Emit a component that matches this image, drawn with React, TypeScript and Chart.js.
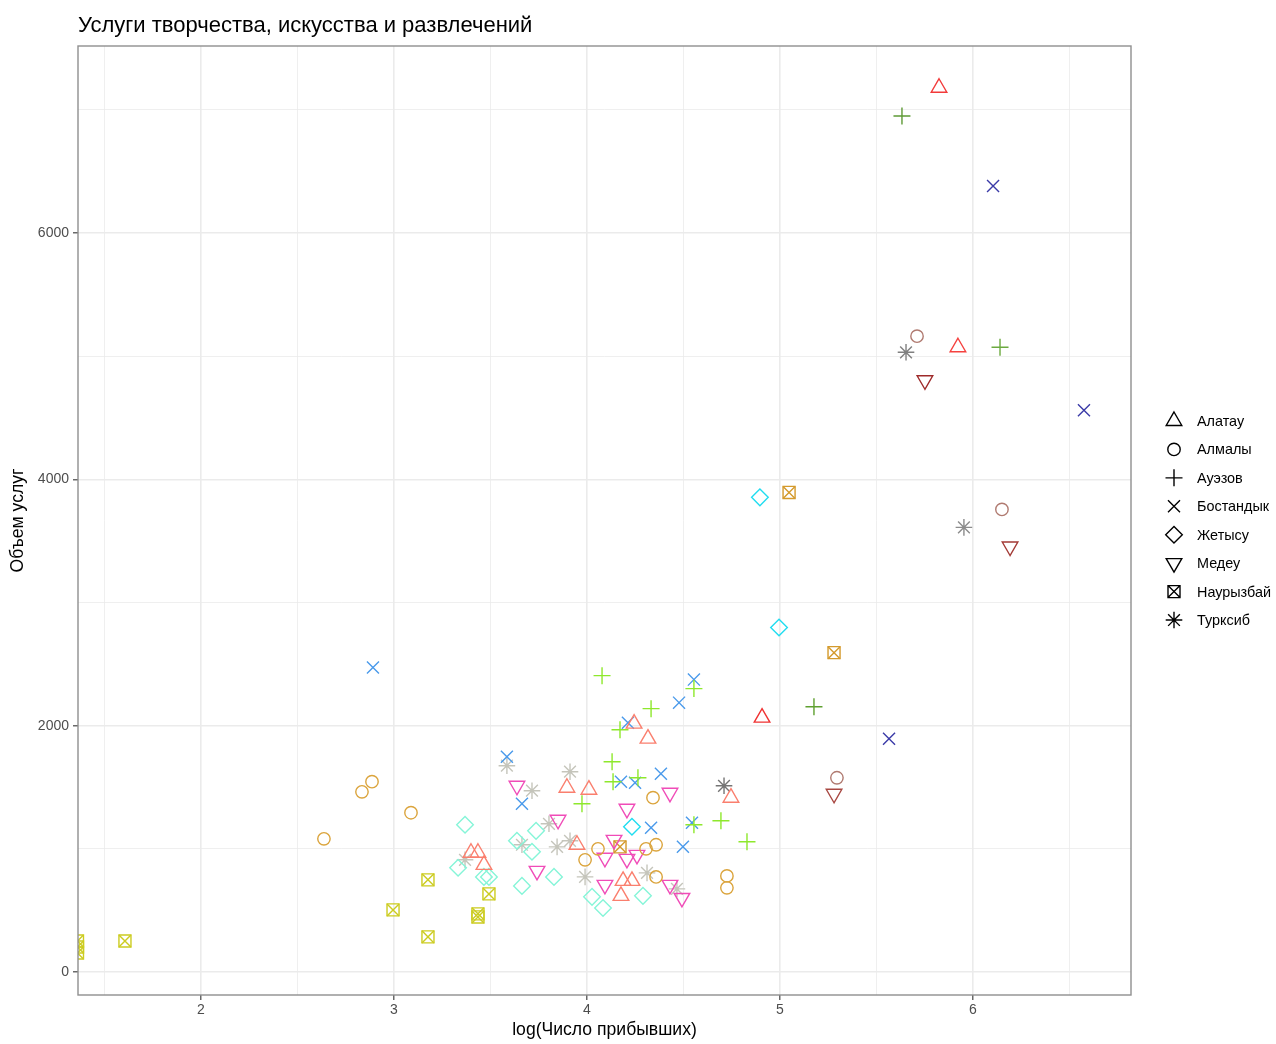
import React, { useEffect, useRef } from 'react';
import { Chart, registerables } from 'chart.js';

Chart.register(...registerables);

const FONT = '"Liberation Sans", Arial, Helvetica, sans-serif';
const TITLE = 'Услуги творчества, искусства и развлечений';
const X_TITLE = 'log(Число прибывших)';
const Y_TITLE = 'Объем услуг';

const districts = ['Алатау', 'Алмалы', 'Ауэзов', 'Бостандык', 'Жетысу', 'Медеу', 'Наурызбай', 'Турксиб'];

// labelled (major) ticks and all grid positions (major + minor)
const xTickLabels = [2, 3, 4, 5, 6];
const yTickLabels = [0, 2000, 4000, 6000];
const xGrid = [1.5, 2, 2.5, 3, 3.5, 4, 4.5, 5, 5.5, 6, 6.5];
const yGrid = [0, 1000, 2000, 3000, 4000, 5000, 6000, 7000];

// Алатау
const alatauX = [5.824, 5.922, 4.907, 4.746, 4.244, 4.316, 3.896, 4.010, 3.948, 3.399, 3.435, 3.466, 4.187, 4.233, 4.176];
const alatauY = [7180, 5073, 2065, 1415, 2017, 1895, 1496, 1480, 1033, 968, 968, 870, 740, 740, 618];
// Алмалы
const almalyX = [5.710, 6.150, 5.295, 2.886, 2.834, 3.088, 2.637, 4.342, 4.057, 3.990, 4.306, 4.358, 4.358, 4.725, 4.725];
const almalyY = [5163, 3756, 1577, 1545, 1463, 1293, 1081, 1415, 1000, 911, 1000, 1033, 772, 780, 683];
// Ауэзов
const auezovX = [5.632, 6.140, 5.176, 4.829, 4.694, 4.554, 4.078, 4.554, 4.332, 4.171, 4.130, 4.135, 4.264, 3.974];
const auezovY = [6951, 5073, 2154, 1057, 1228, 1195, 2406, 2301, 2138, 1967, 1707, 1545, 1577, 1366];
// Бостандык
const bostandykX = [6.104, 6.575, 5.565, 2.891, 4.554, 4.477, 4.212, 4.383, 4.176, 4.249, 4.332, 4.497, 4.544, 3.585, 3.663];
const bostandykY = [6382, 4561, 1894, 2472, 2374, 2187, 2024, 1610, 1545, 1537, 1171, 1016, 1211, 1748, 1366];
// Жетысу
const zhetysuX = [4.896, 4.995, 4.233, 3.368, 3.332, 3.466, 3.492, 3.637, 3.736, 3.715, 3.663, 3.829, 4.026, 4.083, 4.290];
const zhetysuY = [3854, 2797, 1179, 1195, 846, 772, 772, 1065, 1146, 976, 699, 772, 610, 520, 618];
// Медеу
const medeuX = [5.751, 6.192, 5.280, 3.637, 3.850, 3.741, 4.430, 4.207, 4.140, 4.093, 4.207, 4.259, 4.093, 4.430, 4.492];
const medeuY = [4805, 3455, 1447, 1512, 1236, 821, 1455, 1325, 1073, 927, 918, 951, 707, 707, 601];
// Наурызбай
const nauryzbaiX = [5.047, 5.280, 4.171, 3.176, 2.995, 3.492, 3.435, 3.435, 3.176, 1.606, 1.360, 1.360, 1.360];
const nauryzbaiY = [3894, 2593, 1016, 748, 504, 634, 472, 447, 285, 252, 252, 203, 154];
// Турксиб
const turksibX = [5.653, 5.953, 4.710, 3.585, 3.715, 3.912, 3.803, 3.912, 3.845, 3.663, 3.368, 3.990, 4.311, 4.466];
const turksibY = [5032, 3610, 1512, 1675, 1472, 1626, 1203, 1065, 1016, 1033, 911, 772, 805, 675];

// point colours (hidden colour mapping of the original plot)
const rep = (c: string, n: number) => Array.from({ length: n }, () => c);
const alatauColors = ['#F23A3A', '#F5423F', '#F03232', ...rep('#FA7F6E', 12)];
const almalyColors = ['#B07A70', '#B07A70', '#B07A70', ...rep('#DBA43C', 12)];
const auezovColors = ['#5E9A36', '#6CAA40', '#5FA030', ...rep('#8EE82C', 11)];
const bostandykColors = ['#3B3BA8', '#3B3BA8', '#3B3BA8', ...rep('#4A9AEB', 12)];
const zhetysuColors = ['#21DDF0', '#21DDF0', '#21DDF0', ...rep('#86F5D8', 12)];
const medeuColors = ['#9E2A2A', '#A33A36', '#A84842', ...rep('#F04CB8', 12)];
const nauryzbaiColors = ['#D49A2C', '#D49A2C', '#D49A2C', ...rep('#CCCC20', 10)];
const turksibColors = ['#808080', '#8C8C8C', '#757575', ...rep('#C5C5BB', 11)];

const X_MIN = 1.3627;
const X_MAX = 6.8187;
const Y_MIN = -187;
const Y_MAX = 7519;

const toPoints = (xs: number[], ys: number[]) => xs.map((x, i) => ({ x, y: ys[i] }));

const LW = 1.4;

function makeDataset(label: string, xs: number[], ys: number[], colors: string[], style: any, radius: number, rotation = 0) {
  return {
    label,
    data: toPoints(xs, ys),
    pointStyle: style,
    pointRadius: radius,
    pointHoverRadius: radius,
    pointRotation: rotation,
    pointBorderColor: colors,
    pointBackgroundColor: 'rgba(0,0,0,0)',
    pointBorderWidth: LW,
    pointHoverBorderWidth: LW,
    showLine: false,
    clip: 0,
  };
}

const legendShapes = ['triUp', 'circle', 'plus', 'x', 'diamond', 'triDown', 'squareX', 'star'];

function drawShape(ctx: CanvasRenderingContext2D, kind: string, x: number, y: number) {
  ctx.beginPath();
  const tr = 9;
  const s = Math.sin((2 * Math.PI) / 3);
  switch (kind) {
    case 'triUp':
      ctx.moveTo(x, y - tr);
      ctx.lineTo(x + tr * s, y + tr / 2);
      ctx.lineTo(x - tr * s, y + tr / 2);
      ctx.closePath();
      break;
    case 'triDown':
      ctx.moveTo(x, y + tr);
      ctx.lineTo(x + tr * s, y - tr / 2);
      ctx.lineTo(x - tr * s, y - tr / 2);
      ctx.closePath();
      break;
    case 'circle':
      ctx.arc(x, y, 6.2, 0, Math.PI * 2);
      break;
    case 'plus':
      ctx.moveTo(x - 8.5, y); ctx.lineTo(x + 8.5, y);
      ctx.moveTo(x, y - 8.5); ctx.lineTo(x, y + 8.5);
      break;
    case 'x':
      ctx.moveTo(x - 6, y - 6); ctx.lineTo(x + 6, y + 6);
      ctx.moveTo(x + 6, y - 6); ctx.lineTo(x - 6, y + 6);
      break;
    case 'diamond':
      ctx.moveTo(x - 8.3, y); ctx.lineTo(x, y - 8.3); ctx.lineTo(x + 8.3, y); ctx.lineTo(x, y + 8.3);
      ctx.closePath();
      break;
    case 'squareX':
      ctx.rect(x - 6, y - 6, 12, 12);
      ctx.moveTo(x - 6, y - 6); ctx.lineTo(x + 6, y + 6);
      ctx.moveTo(x + 6, y - 6); ctx.lineTo(x - 6, y + 6);
      break;
    case 'star': {
      const r = 8.3, d = r * Math.SQRT1_2;
      ctx.moveTo(x - r, y); ctx.lineTo(x + r, y);
      ctx.moveTo(x, y - r); ctx.lineTo(x, y + r);
      ctx.moveTo(x - d, y - d); ctx.lineTo(x + d, y + d);
      ctx.moveTo(x + d, y - d); ctx.lineTo(x - d, y + d);
      break;
    }
  }
  ctx.stroke();
}

const decorPlugin = {
  id: 'ggDecor',
  afterDatasetsDraw(chart: any) {
    const { ctx, chartArea } = chart;
    ctx.save();
    ctx.strokeStyle = '#8F8F8F';
    ctx.lineWidth = 1.4;
    ctx.strokeRect(chartArea.left, chartArea.top, chartArea.right - chartArea.left, chartArea.bottom - chartArea.top);
    ctx.restore();
  },
  afterDraw(chart: any) {
    const { ctx, chartArea } = chart;
    ctx.save();
    // title
    ctx.fillStyle = '#000000';
    ctx.font = `22px ${FONT}`;
    ctx.textAlign = 'left';
    ctx.textBaseline = 'alphabetic';
    ctx.fillText(TITLE, chartArea.left, 32);
    // legend
    const symX = 1174;
    const textX = 1197;
    const y0 = 421;
    const step = 28.43;
    ctx.strokeStyle = '#000000';
    ctx.lineWidth = LW;
    ctx.font = `14.4px ${FONT}`;
    ctx.textBaseline = 'middle';
    districts.forEach((name, i) => {
      const y = y0 + i * step;
      drawShape(ctx, legendShapes[i], symX, y);
      ctx.fillText(name, textX, y + 1);
    });
    ctx.restore();
  },
};

export default function App() {
  const ref = useRef<HTMLCanvasElement | null>(null);

  useEffect(() => {
    if (!ref.current) return;
    Chart.defaults.font.family = FONT;
    const isMajorX = (v: number) => xTickLabels.some((t) => Math.abs(t - v) < 1e-9);
    const isMajorY = (v: number) => yTickLabels.some((t) => Math.abs(t - v) < 1e-6);

    const chart = new Chart(ref.current, {
      type: 'scatter',
      data: {
        datasets: [
          makeDataset('Алатау', alatauX, alatauY, alatauColors, 'triangle', 9),
          makeDataset('Алмалы', almalyX, almalyY, almalyColors, 'circle', 6.2),
          makeDataset('Ауэзов', auezovX, auezovY, auezovColors, 'cross', 8.5),
          makeDataset('Бостандык', bostandykX, bostandykY, bostandykColors, 'crossRot', 8.5),
          makeDataset('Жетысу', zhetysuX, zhetysuY, zhetysuColors, 'rectRot', 8.3),
          makeDataset('Медеу', medeuX, medeuY, medeuColors, 'triangle', 9, 180),
          makeDataset('Наурызбай', nauryzbaiX, nauryzbaiY, nauryzbaiColors, 'rect', 8.5),
          makeDataset('Наурызбай ', nauryzbaiX, nauryzbaiY, nauryzbaiColors, 'crossRot', 8.5),
          makeDataset('Турксиб', turksibX, turksibY, turksibColors, 'star', 8.3),
        ] as any,
      },
      options: {
        responsive: false,
        animation: false,
        events: [],
        devicePixelRatio: 1,
        layout: { padding: { top: 46, right: 145, left: 0, bottom: 0 } },
        plugins: {
          legend: { display: false },
          title: { display: false },
          tooltip: { enabled: false },
        },
        scales: {
          x: {
            type: 'linear',
            min: X_MIN,
            max: X_MAX,
            afterBuildTicks: (scale: any) => { scale.ticks = xGrid.map((v) => ({ value: v })); },
            afterFit: (scale: any) => { scale.height = 49; },
            border: { display: false },
            grid: {
              color: '#EBEBEB',
              lineWidth: (c: any) => (isMajorX(c.tick?.value) ? 1.6 : 0.8),
              tickLength: 5,
              tickColor: (c: any) => (isMajorX(c.tick?.value) ? '#444444' : 'rgba(0,0,0,0)'),
              tickWidth: 1.2,
            },
            ticks: {
              autoSkip: false,
              maxRotation: 0,
              padding: 2,
              color: '#4D4D4D',
              font: { size: 14, family: FONT },
              callback: (v: any) => (isMajorX(Number(v)) ? String(Math.round(Number(v))) : ''),
            },
            title: {
              display: true,
              text: X_TITLE,
              color: '#000000',
              font: { size: 17.6, family: FONT },
              padding: { top: 0, bottom: 3.5 },
            },
          },
          y: {
            type: 'linear',
            min: Y_MIN,
            max: Y_MAX,
            afterBuildTicks: (scale: any) => { scale.ticks = yGrid.map((v) => ({ value: v })); },
            afterFit: (scale: any) => { scale.width = 78; },
            border: { display: false },
            grid: {
              color: '#EBEBEB',
              lineWidth: (c: any) => (isMajorY(c.tick?.value) ? 1.6 : 0.8),
              tickLength: 5,
              tickColor: (c: any) => (isMajorY(c.tick?.value) ? '#444444' : 'rgba(0,0,0,0)'),
              tickWidth: 1.2,
            },
            ticks: {
              autoSkip: false,
              padding: 4,
              color: '#4D4D4D',
              font: { size: 14, family: FONT },
              callback: (v: any) => (isMajorY(Number(v)) ? String(Math.round(Number(v))) : ''),
            },
            title: {
              display: true,
              text: Y_TITLE,
              color: '#000000',
              font: { size: 17.6, family: FONT },
              padding: { top: 7.4, bottom: 0 },
            },
          },
        },
      } as any,
      plugins: [decorPlugin],
    });
    return () => chart.destroy();
  }, []);

  return (
    <div style={{ position: 'absolute', left: 0, top: 0, width: 1276, height: 1044, background: '#ffffff' }}>
      <canvas ref={ref} width={1276} height={1044} style={{ display: 'block', width: 1276, height: 1044 }} />
    </div>
  );
}
